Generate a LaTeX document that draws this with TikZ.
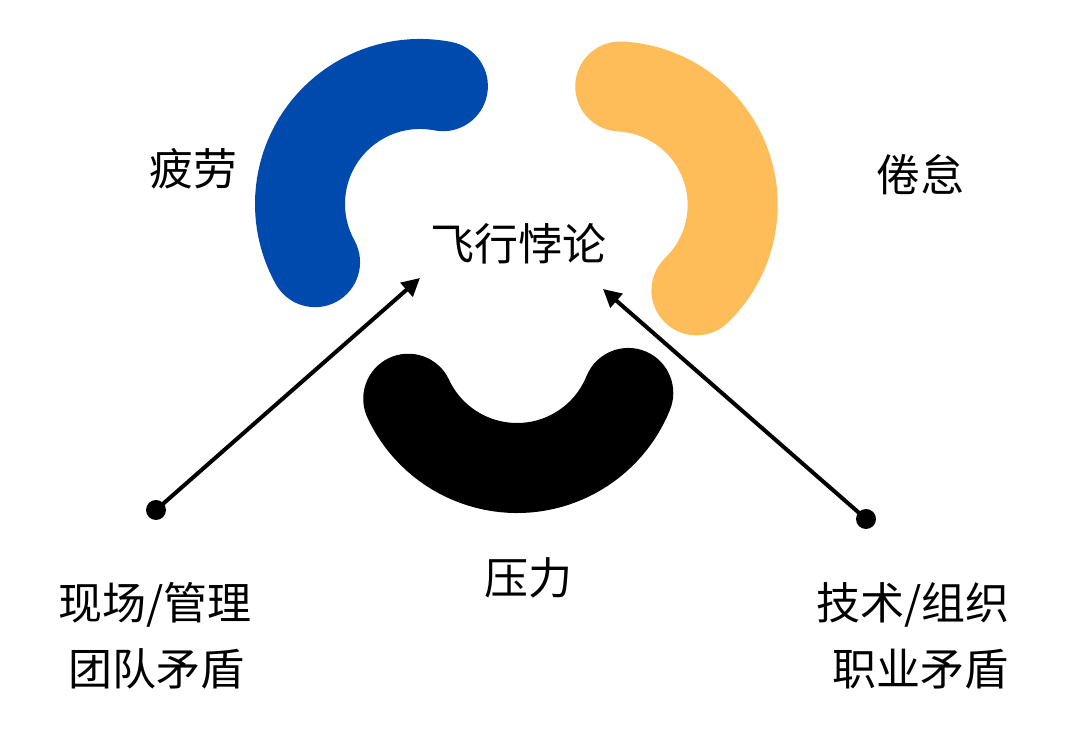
\documentclass[tikz,border=0pt]{standalone}
\usepackage{fontspec}
\setmainfont{Noto Sans CJK SC}
\usetikzlibrary{arrows.meta}
\definecolor{arcblue}{RGB}{0,74,173}
\definecolor{arcorange}{RGB}{255,189,89}
\tikzset{
  band/.style={line width=67.5pt, line cap=round},
  lbl/.style={font=\fontsize{33}{48}\selectfont, inner sep=0pt, align=center},
  dotnode/.style={circle, fill=black, inner sep=0pt, minimum size=15pt},
  pointer/.style={line width=3pt, -{Triangle[length=13.5pt,width=13.5pt]}}
}
\begin{document}
\begin{tikzpicture}[x=0.75pt,y=0.75pt]
\useasboundingbox[fill=white] (0,0) rectangle (1080,752);
% arcs
\coordinate (cb) at (420,548);
\coordinate (co) at (614,547);
\coordinate (ck) at (517,404);
\draw[band, arcblue] (cb) ++(79:90pt) arc[start angle=79, end angle=209, radius=90pt];
\draw[band, arcorange] (co) ++(87:89pt) arc[start angle=87, end angle=-46, radius=89pt];
\draw[band, black] (ck) ++(205:90pt) arc[start angle=205, end angle=338, radius=90pt];
% labels
\node[lbl] (fatigue) at (193,583) {疲劳};
\node[lbl] (burnout) at (920,577) {倦怠};
\node[lbl] (paradox) at (518,508) {飞行悖论};
\node[lbl] (stress) at (528,174) {压力};
\node[lbl] (left1) at (155,147) {现场/管理};
\node[lbl] (left2) at (156,83) {团队矛盾};
\node[lbl] (right1) at (913,147) {技术/组织};
\node[lbl] (right2) at (920,83) {职业矛盾};
% arrows
\node[dotnode] (dL) at (156,242) {};
\node[dotnode] (dR) at (866,233) {};
\coordinate (tipL) at (420,474);
\coordinate (tipR) at (603,463);
\draw[pointer] (dL.center) -- (tipL);
\draw[pointer] (dR.center) -- (tipR);
\end{tikzpicture}
\end{document}
